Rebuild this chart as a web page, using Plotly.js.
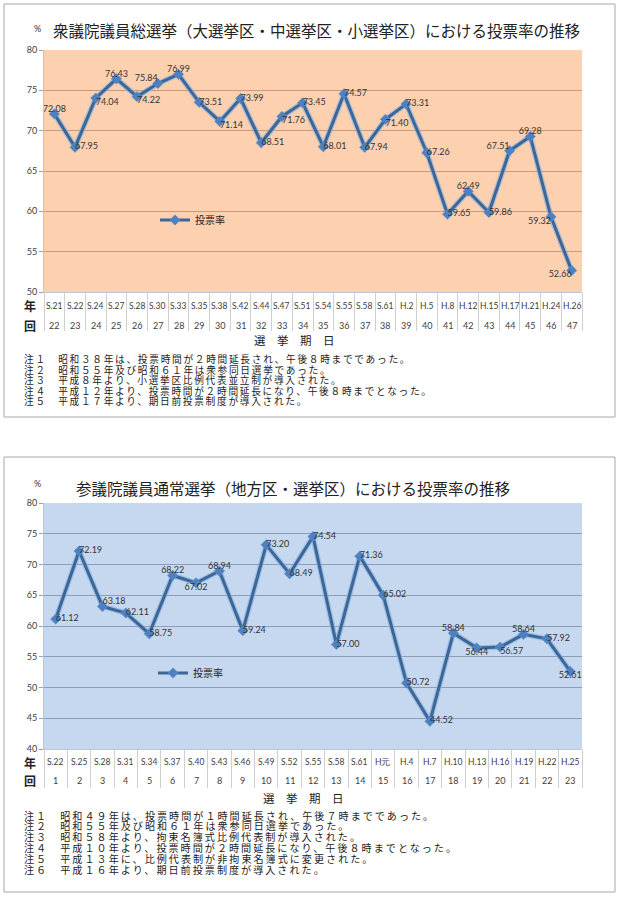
<!DOCTYPE html>
<html>
<head>
<meta charset="utf-8">
<script src="https://cdn.plot.ly/plotly-3.0.1.min.js"></script>
<style>
  html, body { margin: 0; padding: 0; background: #fff; }
  #chart { width: 620px; height: 898px; }
</style>
</head>
<body>
<div id="chart"></div>
<script>
// 衆議院
const shuYears = ["S.21", "S.22", "S.24", "S.27", "S.28", "S.30", "S.33", "S.35", "S.38", "S.42",
                  "S.44", "S.47", "S.51", "S.54", "S.55", "S.58", "S.61", "H.2", "H.5", "H.8",
                  "H.12", "H.15", "H.17", "H.21", "H.24", "H.26"];
const shuKai = ["22", "23", "24", "25", "26", "27", "28", "29", "30", "31", "32", "33", "34",
                "35", "36", "37", "38", "39", "40", "41", "42", "43", "44", "45", "46", "47"];
const shuRate = [72.08, 67.95, 74.04, 76.43, 74.22, 75.84, 76.99, 73.51, 71.14, 73.99,
                 68.51, 71.76, 73.45, 68.01, 74.57, 67.94, 71.40, 73.31, 67.26, 59.65,
                 62.49, 59.86, 67.51, 69.28, 59.32, 52.66];
const shuNotes = [
    "注１　昭和３８年は、投票時間が２時間延長され、午後８時までであった。",
    "注２　昭和５５年及び昭和６１年は衆参同日選挙であった。",
    "注３　平成８年より、小選挙区比例代表並立制が導入された。",
    "注４　平成１２年より、投票時間が２時間延長になり、午後８時までとなった。",
    "注５　平成１７年より、期日前投票制度が導入された。"
];

// 参議院
const sanYears = ["S.22", "S.25", "S.28", "S.31", "S.34", "S.37", "S.40", "S.43", "S.46", "S.49",
                  "S.52", "S.55", "S.58", "S.61", "H元", "H.4", "H.7", "H.10", "H.13", "H.16",
                  "H.19", "H.22", "H.25"];
const sanKai = ["1", "2", "3", "4", "5", "6", "7", "8", "9", "10", "11", "12", "13", "14",
                "15", "16", "17", "18", "19", "20", "21", "22", "23"];
const sanRate = [61.12, 72.19, 63.18, 62.11, 58.75, 68.22, 67.02, 68.94, 59.24, 73.20,
                 68.49, 74.54, 57.00, 71.36, 65.02, 50.72, 44.52, 58.84, 56.44, 56.57,
                 58.64, 57.92, 52.61];
const sanNotes = [
    "注１　昭和４９年は、投票時間が１時間延長され、午後７時までであった。",
    "注２　昭和５５年及び昭和６１年は衆参同日選挙であった。",
    "注３　昭和５８年より、拘束名簿式比例代表制が導入された。",
    "注４　平成１０年より、投票時間が２時間延長になり、午後８時までとなった。",
    "注５　平成１３年に、比例代表制が非拘束名簿式に変更された。",
    "注６　平成１６年より、期日前投票制度が導入された。"
];

// where each data label sits relative to its point
const shuLabelPos = ["top center", "middle right", "bottom right", "top center", "bottom right",
                     "top left", "top center", "middle right", "bottom right", "middle right",
                     "middle right", "bottom right", "middle right", "middle right", "middle right",
                     "middle right", "bottom right", "middle right", "middle right", "middle right",
                     "top center", "middle right", "top left", "top center", "bottom left",
                     "bottom left"];
const sanLabelPos = ["middle right", "middle right", "top right", "middle right", "middle right",
                     "top center", "bottom center", "top center", "middle right", "middle right",
                     "middle right", "middle right", "middle right", "middle right", "middle right",
                     "middle right", "middle right", "top center", "bottom center", "bottom right",
                     "top center", "middle right", "bottom center"];

const W = 620, H = 898;
const px = x => x / W;
const py = y => 1 - y / H;

const JP = "'Noto Sans CJK JP', sans-serif";
const NUM = "Lato, 'Liberation Sans', sans-serif";
const lineColor = "#3b6696";
const markerColor = "#4f80c0";

// soft light-blue glow under the line, like the Excel original
function glowTrace(x, y, xa, ya) {
    return {
        x: x, y: y, xaxis: xa, yaxis: ya,
        type: "scatter", mode: "lines",
        line: { color: "rgba(140,180,226,0.7)", width: 5.5 },
        showlegend: false,
        hoverinfo: "skip"
    };
}

function lineTrace(x, y, xa, ya, legendId) {
    return {
        x: x, y: y, xaxis: xa, yaxis: ya,
        type: "scatter", mode: "lines+markers",
        name: "投票率",
        legend: legendId,
        line: { color: lineColor, width: 3 },
        marker: { symbol: "diamond", size: 8, color: markerColor, line: { color: "#5d8fd0", width: 0.5 } },
        hoverinfo: "x+y"
    };
}

function labelTrace(x, y, pos, xa, ya) {
    return {
        x: x, y: y, xaxis: xa, yaxis: ya,
        type: "scatter", mode: "text",
        text: y.map(v => v.toFixed(2)),
        textposition: pos,
        textfont: { family: NUM, size: 9, color: "#333333" },
        cliponaxis: false,
        showlegend: false,
        hoverinfo: "skip"
    };
}

const data = [
    glowTrace(shuYears, shuRate, "x", "y"),
    lineTrace(shuYears, shuRate, "x", "y", "legend"),
    labelTrace(shuYears, shuRate, shuLabelPos, "x", "y"),
    glowTrace(sanYears, sanRate, "x2", "y2"),
    lineTrace(sanYears, sanRate, "x2", "y2", "legend2"),
    labelTrace(sanYears, sanRate, sanLabelPos, "x2", "y2")
];

function xAxis(cats, anchor) {
    return {
        type: "category",
        categoryarray: cats,
        range: [-0.5, cats.length - 0.5],
        domain: [px(44), px(582)],
        anchor: anchor,
        tickson: "boundaries",
        ticks: "outside",
        ticklen: 38,
        tickcolor: "#cfcfcf",
        tickwidth: 1,
        showticklabels: false,
        showgrid: false,
        showline: true,
        linecolor: "#bcc6d6",
        fixedrange: true
    };
}

function yAxis(range, top, bottom, grid, anchor) {
    return {
        range: range,
        dtick: 5,
        domain: [py(bottom), py(top)],
        anchor: anchor,
        ticks: "outside",
        ticklen: 4,
        tickcolor: "#a0a0a0",
        tickfont: { family: NUM, size: 9, color: "#404040" },
        gridcolor: grid,
        gridwidth: 1.3,
        showline: true,
        linecolor: "#bcc6d6",
        zeroline: false,
        fixedrange: true
    };
}

const annotations = [];
function note(x, y, text, size, opts) {
    annotations.push(Object.assign({
        xref: "paper", yref: "paper", x: px(x), y: py(y),
        text: text, showarrow: false,
        xanchor: "center", yanchor: "middle",
        font: { family: JP, size: size, color: "#222222" }
    }, opts || {}));
}

// category table rows under each chart
function tableRows(cats, kai, xref, yRow1, yRow2) {
    cats.forEach((c, i) => {
        annotations.push({
            xref: xref, yref: "paper", x: c, y: py(yRow1), text: c, showarrow: false,
            xanchor: "center", yanchor: "middle",
            font: { family: NUM, size: 8.5, color: "#404040" }
        });
        annotations.push({
            xref: xref, yref: "paper", x: c, y: py(yRow2), text: kai[i], showarrow: false,
            xanchor: "center", yanchor: "middle",
            font: { family: NUM, size: 9, color: "#404040" }
        });
    });
}

const spaced = (t, ls) => `<span style="letter-spacing:${ls}px">${t}</span>`;

// top panel texts
note(37, 29, "%", 9, { font: { family: NUM, size: 9, color: "#333" } });
note(316, 30, "衆議院議員総選挙（大選挙区・中選挙区・小選挙区）における投票率の推移", 15.5);
note(30, 306, "<b>年</b>", 12);
note(30, 325, "<b>回</b>", 12);
note(294, 340, "選　挙　期　日", 11.5);
tableRows(shuYears, shuKai, "x", 306, 325);
shuNotes.forEach((t, i) => note(22, 359 + i * 10.5, spaced(t, 1.7), 9.7, { xanchor: "left" }));

// bottom panel texts
note(37, 483, "%", 9, { font: { family: NUM, size: 9, color: "#333" } });
note(293, 488, "参議院議員通常選挙（地方区・選挙区）における投票率の推移", 15.5);
note(30, 762, "<b>年</b>", 12);
note(30, 780, "<b>回</b>", 12);
note(303, 798, "選　挙　期　日", 11.5);
tableRows(sanYears, sanKai, "x2", 762, 780);
sanNotes.forEach((t, i) => note(22, 815 + i * 10.9, spaced(t, 2.0), 10.1, { xanchor: "left" }));

const shapes = [
    // plot backgrounds
    { type: "rect", xref: "x domain", yref: "y domain", x0: 0, x1: 1, y0: 0, y1: 1,
      fillcolor: "#fdd0b0", line: { width: 0 }, layer: "below" },
    { type: "rect", xref: "x2 domain", yref: "y2 domain", x0: 0, x1: 1, y0: 0, y1: 1,
      fillcolor: "#c6d8ef", line: { width: 0 }, layer: "below" },
    // panel frames
    { type: "rect", xref: "paper", yref: "paper", x0: px(4), x1: px(615), y0: py(417), y1: py(4),
      line: { color: "#a8a8a8", width: 1 }, layer: "below" },
    { type: "rect", xref: "paper", yref: "paper", x0: px(4), x1: px(615), y0: py(892), y1: py(457),
      line: { color: "#a8a8a8", width: 1 }, layer: "below" }
];

const legendBase = {
    xanchor: "left", yanchor: "middle",
    bgcolor: "rgba(0,0,0,0)",
    font: { family: JP, size: 10, color: "#222" },
    itemwidth: 30
};

const layout = {
    width: W,
    height: H,
    margin: { l: 0, r: 0, t: 0, b: 0 },
    paper_bgcolor: "#ffffff",
    plot_bgcolor: "rgba(0,0,0,0)",
    xaxis: xAxis(shuYears, "y"),
    yaxis: yAxis([50, 80], 50, 292, "#c89a7a", "x"),
    xaxis2: xAxis(sanYears, "y2"),
    yaxis2: yAxis([40, 80], 503, 749, "#8d9db8", "x2"),
    legend: Object.assign({ x: px(155), y: py(220) }, legendBase),
    legend2: Object.assign({ x: px(153), y: py(673) }, legendBase),
    annotations: annotations,
    shapes: shapes,
    hovermode: "closest"
};

Plotly.newPlot("chart", data, layout, { displayModeBar: false });
</script>
</body>
</html>
